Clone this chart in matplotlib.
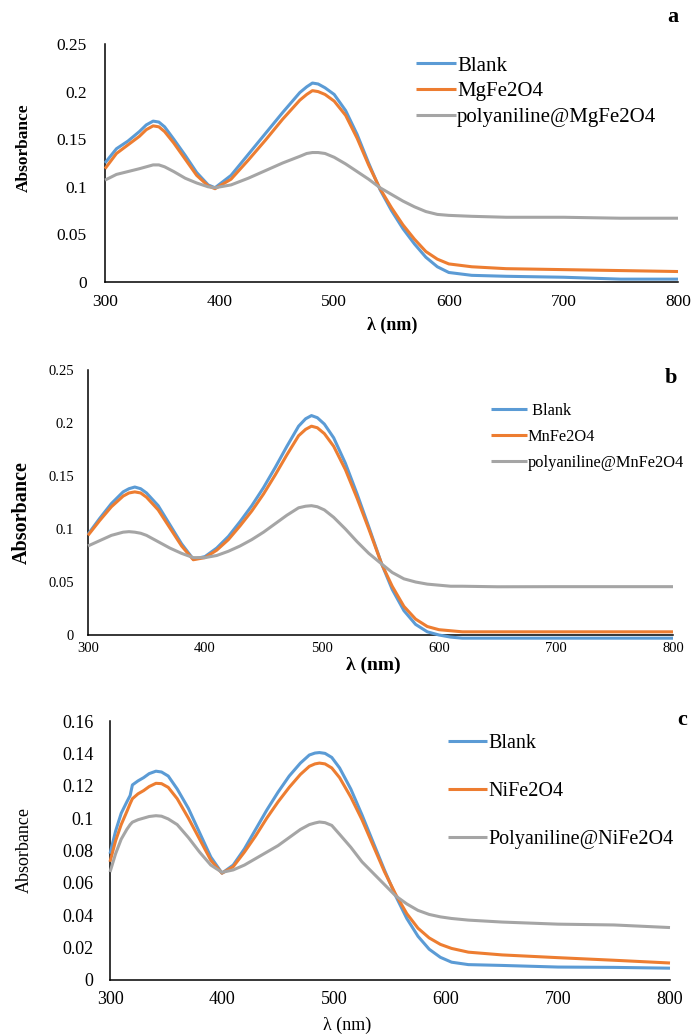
import matplotlib
matplotlib.use("Agg")
import matplotlib.pyplot as plt
from matplotlib.ticker import FuncFormatter

plt.rcParams['font.family'] = ['Liberation Serif', 'DejaVu Serif']

# ---- panel a : MgFe2O4 ----
wl_a = [300, 310, 320, 330, 336, 342, 347, 352, 360, 370, 380, 390, 396, 410, 425, 440, 455,
        470, 476, 481, 486, 492, 500, 510, 520, 530, 540, 550, 560, 570, 580, 590, 600, 620,
        650, 700, 750, 800]
blank_a = [0.125, 0.140, 0.148, 0.158, 0.165, 0.169, 0.168, 0.163, 0.150, 0.133, 0.115, 0.102,
           0.099, 0.112, 0.134, 0.156, 0.178, 0.199, 0.205, 0.209, 0.208, 0.204, 0.197, 0.180,
           0.155, 0.125, 0.097, 0.075, 0.056, 0.040, 0.026, 0.016, 0.010, 0.007, 0.006, 0.005,
           0.003, 0.003]
mg_a = [0.119, 0.135, 0.144, 0.153, 0.160, 0.164, 0.163, 0.158, 0.146, 0.129, 0.112, 0.101,
        0.098, 0.108, 0.128, 0.149, 0.171, 0.191, 0.197, 0.201, 0.200, 0.197, 0.190, 0.175,
        0.151, 0.123, 0.098, 0.078, 0.060, 0.045, 0.032, 0.024, 0.019, 0.016, 0.014, 0.013,
        0.012, 0.011]
pani_a = [0.107, 0.113, 0.116, 0.119, 0.121, 0.123, 0.123, 0.121, 0.116, 0.109, 0.104, 0.100,
          0.099, 0.102, 0.109, 0.117, 0.125, 0.132, 0.135, 0.136, 0.136, 0.135, 0.131, 0.124,
          0.116, 0.108, 0.099, 0.092, 0.085, 0.079, 0.074, 0.071, 0.070, 0.069, 0.068, 0.068,
          0.067, 0.067]
labels_a = ['Blank', 'MgFe2O4', 'polyaniline@MgFe2O4']

# ---- panel b : MnFe2O4 ----
wl_b = [300, 310, 320, 330, 335, 340, 345, 350, 360, 370, 380, 390, 400, 410, 420, 430, 440,
        450, 460, 470, 480, 486, 491, 496, 502, 510, 520, 530, 540, 551, 560, 570, 580, 590,
        600, 610, 620, 650, 700, 750, 800]
blank_b = [0.095, 0.110, 0.124, 0.135, 0.138, 0.1396, 0.138, 0.134, 0.122, 0.104, 0.086, 0.0715,
           0.074, 0.082, 0.093, 0.107, 0.122, 0.139, 0.158, 0.178, 0.197, 0.204, 0.207, 0.205,
           0.199, 0.186, 0.162, 0.133, 0.102, 0.067, 0.043, 0.023, 0.010, 0.003, 0.000, -0.002,
           -0.003, -0.003, -0.003, -0.003, -0.003]
mn_b = [0.094, 0.108, 0.121, 0.131, 0.134, 0.135, 0.134, 0.130, 0.118, 0.101, 0.084, 0.071,
        0.073, 0.080, 0.090, 0.103, 0.117, 0.133, 0.151, 0.170, 0.188, 0.194, 0.197, 0.1955,
        0.190, 0.178, 0.156, 0.129, 0.100, 0.067, 0.046, 0.027, 0.015, 0.008, 0.005, 0.004,
        0.003, 0.003, 0.003, 0.003, 0.003]
pani_b = [0.084, 0.089, 0.094, 0.097, 0.0975, 0.097, 0.096, 0.094, 0.088, 0.082, 0.077, 0.073,
          0.073, 0.075, 0.079, 0.084, 0.090, 0.097, 0.105, 0.113, 0.120, 0.1215, 0.122, 0.121,
          0.118, 0.111, 0.100, 0.088, 0.077, 0.067, 0.059, 0.053, 0.050, 0.048, 0.047, 0.046,
          0.046, 0.0455, 0.0456, 0.0456, 0.0456]
labels_b = [' Blank', 'MnFe2O4', 'polyaniline@MnFe2O4']

# ---- panel c : NiFe2O4 ----
wl_c = [300, 305, 310, 315, 318, 320, 325, 330, 335, 341, 346, 352, 360, 370, 380, 390, 400,
        410, 420, 430, 440, 450, 460, 470, 478, 483, 487, 492, 498, 505, 515, 525, 535, 545,
        555, 565, 575, 585, 595, 605, 620, 650, 700, 750, 800]
blank_c = [0.078, 0.092, 0.103, 0.110, 0.114, 0.1205, 0.123, 0.125, 0.1275, 0.129, 0.1285, 0.126,
           0.118, 0.106, 0.091, 0.076, 0.066, 0.071, 0.081, 0.093, 0.105, 0.116, 0.126, 0.134,
           0.139, 0.1402, 0.1405, 0.140, 0.1375, 0.131, 0.118, 0.102, 0.085, 0.068, 0.052,
           0.038, 0.027, 0.019, 0.014, 0.011, 0.0095, 0.009, 0.008, 0.0078, 0.0073]
ni_c = [0.073, 0.086, 0.096, 0.104, 0.109, 0.112, 0.115, 0.117, 0.1195, 0.1215, 0.1213, 0.119,
        0.112, 0.100, 0.087, 0.074, 0.066, 0.070, 0.079, 0.089, 0.100, 0.110, 0.119, 0.127,
        0.132, 0.1335, 0.134, 0.1335, 0.131, 0.125, 0.113, 0.099, 0.083, 0.067, 0.053, 0.041,
        0.032, 0.026, 0.022, 0.0195, 0.0172, 0.0155, 0.0138, 0.0122, 0.0105]
pani_c = [0.0667, 0.078, 0.087, 0.093, 0.096, 0.0975, 0.099, 0.100, 0.101, 0.1015, 0.1012,
          0.0995, 0.096, 0.088, 0.079, 0.071, 0.0665, 0.068, 0.071, 0.075, 0.079, 0.083, 0.088,
          0.093, 0.096, 0.097, 0.0976, 0.0972, 0.0955, 0.090, 0.082, 0.073, 0.066, 0.059, 0.052,
          0.047, 0.043, 0.0405, 0.039, 0.038, 0.037, 0.0358, 0.0345, 0.034, 0.0324]
labels_c = ['Blank', 'NiFe2O4', 'Polyaniline@NiFe2O4']

colors = ['#5B9BD5', '#ED7D31', '#A5A5A5']
W, H = 695, 1036


def fx(px):
    return px / W


def fy(py):
    return 1 - py / H


fig = plt.figure(figsize=(W / 100, H / 100), dpi=100)

panels = [
    # rect in pixels: left, top, right, bottom
    dict(rect=(105, 44, 678, 282), wl=wl_a, ys=[blank_a, mg_a, pani_a], labels=labels_a,
         ymax=0.25, ystep=0.05, tick_fs=12.5, tick_pad_x=9, tick_pad_y=13, leg=(416, 56),
         leg_fs=15, leg_hl=1.92, leg_ls=0.29, letter='a', letter_xy=(673, 17),
         ylab_xy=(24, 148), ylab_fs=12.5, xlab_xy=(392, 325), xlab_fs=13, bold=True),
    dict(rect=(88, 370, 673, 635), wl=wl_b, ys=[blank_b, mn_b, pani_b], labels=labels_b,
         ymax=0.25, ystep=0.05, tick_fs=10.5, tick_pad_x=5, tick_pad_y=10, leg=(491, 403),
         leg_fs=11.8, leg_hl=2.2, leg_ls=0.6, letter='b', letter_xy=(671, 378),
         ylab_xy=(22, 513), ylab_fs=14.5, xlab_xy=(373, 665), xlab_fs=14, bold=True),
    dict(rect=(110, 721, 670, 980), wl=wl_c, ys=[blank_c, ni_c, pani_c], labels=labels_c,
         ymax=0.16, ystep=0.02, tick_fs=13, tick_pad_x=8, tick_pad_y=12, leg=(448, 734),
         leg_fs=14.5, leg_hl=1.94, leg_ls=1.44, letter='c', letter_xy=(682, 720),
         ylab_xy=(24, 850), ylab_fs=13, xlab_xy=(347, 1025), xlab_fs=13, bold=False),
]

for p in panels:
    l, t, r, b = p['rect']
    ax = fig.add_axes([fx(l), fy(b), (r - l) / W, (b - t) / H])
    for y, c, lab in zip(p['ys'], colors, p['labels']):
        ax.plot(p['wl'], y, color=c, lw=2.2, label=lab, clip_on=False,
                solid_joinstyle='round', solid_capstyle='butt')
    ax.set_xlim(300, 800)
    ax.set_ylim(0, p['ymax'])
    ax.set_xticks(range(300, 801, 100))
    n = int(round(p['ymax'] / p['ystep']))
    ax.set_yticks([i * p['ystep'] for i in range(n + 1)])
    ax.yaxis.set_major_formatter(FuncFormatter(lambda v, pos: '%g' % round(v, 3)))
    ax.tick_params(axis='both', length=0, labelsize=p['tick_fs'])
    ax.tick_params(axis='x', pad=p['tick_pad_x'])
    ax.tick_params(axis='y', pad=p['tick_pad_y'])
    for s in ['top', 'right']:
        ax.spines[s].set_visible(False)
    for s in ['left', 'bottom']:
        ax.spines[s].set_linewidth(1.1)
        ax.spines[s].set_zorder(1)
    ax.patch.set_visible(False)

    ax.legend(loc='upper left', bbox_to_anchor=(fx(p['leg'][0]), fy(p['leg'][1])),
              bbox_transform=fig.transFigure, frameon=False, fontsize=p['leg_fs'],
              handlelength=p['leg_hl'], handletextpad=0.05, labelspacing=p['leg_ls'],
              borderpad=0, borderaxespad=0)

    wt = 'bold' if p['bold'] else 'normal'
    fig.text(fx(p['letter_xy'][0]), fy(p['letter_xy'][1]), p['letter'], ha='center',
             va='center', fontsize=16, fontweight='bold')
    fig.text(fx(p['ylab_xy'][0]), fy(p['ylab_xy'][1]), 'Absorbance', rotation=90,
             ha='center', va='center', fontsize=p['ylab_fs'], fontweight=wt)
    fig.text(fx(p['xlab_xy'][0]), fy(p['xlab_xy'][1]), 'λ (nm)', ha='center', va='center',
             fontsize=p['xlab_fs'], fontweight=wt)

fig.savefig('out.png', dpi=100)
